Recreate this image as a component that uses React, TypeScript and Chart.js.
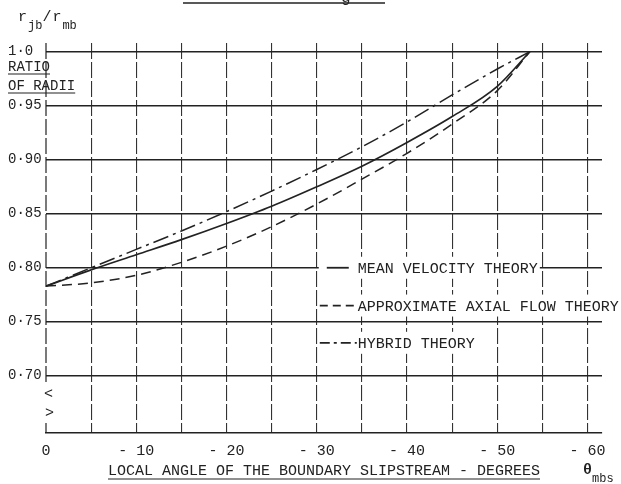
import React, { useEffect, useRef } from 'react';
import { Chart, registerables } from 'chart.js';

Chart.register(...registerables);

// ---- data ----
const angles = [0, -5, -10, -15, -20, -25, -30, -35, -40, -45, -50, -53.6];
const meanVelocity = [0.783, 0.798, 0.812, 0.826, 0.841, 0.857, 0.875, 0.894, 0.916, 0.94, 0.968, 1.0];
const approxAxial = [0.783, 0.786, 0.793, 0.805, 0.82, 0.838, 0.859, 0.882, 0.906, 0.933, 0.964, 1.0];
const hybrid = [0.783, 0.8, 0.817, 0.834, 0.852, 0.871, 0.891, 0.912, 0.935, 0.96, 0.984, 1.0];

const xTicks = [0, -5, -10, -15, -20, -25, -30, -35, -40, -45, -50, -55, -60];
const yTicks = [0.7, 0.75, 0.8, 0.85, 0.9, 0.95, 1.0];
const seriesNames = ['MEAN VELOCITY THEORY', 'APPROXIMATE AXIAL FLOW THEORY', 'HYBRID THEORY'];
const legendRowValues = [0.8, 0.765, 0.7305];
const xTitle = 'LOCAL ANGLE OF THE BOUNDARY SLIPSTREAM - DEGREES';
const yTitleLines = ['RATIO', 'OF RADII'];

const INK = '#222';
const FONT = '"Liberation Mono", "DejaVu Sans Mono", monospace';

const fmtY = (v: number) => (Math.abs(v - 1) < 1e-9 ? '1·0' : v.toFixed(2).replace('.', '·'));
const fmtX = (v: number) => {
  if (Math.round(v) % 10 !== 0) return '';
  return v === 0 ? '0' : '- ' + Math.abs(v);
};

const annotations = {
  id: 'annotations',
  afterDraw(chart: any) {
    const { ctx, chartArea, scales } = chart;
    const xs = scales.x;
    const ys = scales.y;
    ctx.save();
    ctx.fillStyle = INK;
    ctx.strokeStyle = INK;

    // left axis with a break
    const x0 = xs.getPixelForValue(0);
    ctx.lineWidth = 1.2;
    ctx.setLineDash([16, 3]);
    ctx.beginPath();
    ctx.moveTo(x0, chartArea.top);
    ctx.lineTo(x0, ys.getPixelForValue(0.693));
    ctx.stroke();
    ctx.setLineDash([]);
    ctx.beginPath();
    ctx.moveTo(x0, chartArea.bottom - 10);
    ctx.lineTo(x0, chartArea.bottom);
    ctx.stroke();
    ctx.font = '15px ' + FONT;
    ctx.textBaseline = 'middle';
    ctx.textAlign = 'left';
    ctx.fillText('<', x0 - 2, ys.getPixelForValue(0.683));
    ctx.fillText('>', x0 - 1, ys.getPixelForValue(0.6655));

    // legend
    const gx = xs.getPixelForValue(-30);
    const textX = gx + 41;
    seriesNames.forEach((name, i) => {
      const yy = ys.getPixelForValue(legendRowValues[i]);
      ctx.font = '15px ' + FONT;
      const w = ctx.measureText(name).width;
      ctx.fillStyle = '#fff';
      ctx.fillRect(gx + 2, yy - 11, textX + w + 2 - (gx + 2), 22);
      ctx.fillStyle = INK;
      ctx.fillText(name, textX, yy + 1);
      ctx.lineWidth = 1.8;
      ctx.beginPath();
      if (i === 0) {
        ctx.setLineDash([]);
        ctx.moveTo(gx + 10, yy);
        ctx.lineTo(gx + 32, yy);
      } else if (i === 1) {
        ctx.setLineDash([8, 5]);
        ctx.moveTo(gx + 3, yy);
        ctx.lineTo(gx + 38, yy);
      } else {
        ctx.setLineDash([10, 4, 3, 4]);
        ctx.moveTo(gx + 3, yy);
        ctx.lineTo(gx + 40, yy);
      }
      ctx.stroke();
      ctx.setLineDash([]);
    });

    // top-left axis label r_jb / r_mb
    ctx.textBaseline = 'alphabetic';
    let cx = 18;
    const parts: [string, boolean][] = [['r', false], ['jb', true], ['/', false], ['r', false], ['mb', true]];
    parts.forEach(([t, sub]) => {
      ctx.font = (sub ? '12px ' : '15px ') + FONT;
      ctx.fillText(t, cx, sub ? 29 : 21);
      cx += ctx.measureText(t).width + (sub ? 0 : 1);
    });

    // RATIO / OF RADII (underlined)
    ctx.font = '14px ' + FONT;
    ctx.lineWidth = 1.2;
    yTitleLines.forEach((t, i) => {
      const base = 71 + i * 19;
      ctx.fillText(t, 8, base);
      const w = ctx.measureText(t).width;
      ctx.beginPath();
      ctx.moveTo(8, base + 3);
      ctx.lineTo(8 + w, base + 3);
      ctx.stroke();
    });

    // underline of the x title
    ctx.font = '15px ' + FONT;
    const tw = ctx.measureText(xTitle).width;
    const tcx = (chartArea.left + chartArea.right) / 2;
    ctx.beginPath();
    ctx.moveTo(tcx - tw / 2, 479);
    ctx.lineTo(tcx + tw / 2, 479);
    ctx.stroke();

    // theta_mbs
    ctx.font = 'bold 15px ' + FONT;
    ctx.fillText('θ', 583, 474);
    ctx.font = '12px ' + FONT;
    ctx.fillText('mbs', 592, 482);

    // cut-off caption at the very top
    ctx.lineWidth = 1.5;
    ctx.beginPath();
    ctx.moveTo(183, 3);
    ctx.lineTo(385, 3);
    ctx.stroke();
    ctx.font = '16px ' + FONT;
    ctx.fillText('g', 341, 1.5);

    ctx.restore();
  },
};

export default function App() {
  const ref = useRef<HTMLCanvasElement | null>(null);

  useEffect(() => {
    document.body.style.margin = '0';
    const canvas = ref.current;
    if (!canvas) return;
    const pts = (ys: number[]) => angles.map((a, i) => ({ x: a, y: ys[i] }));
    const common = {
      borderColor: INK,
      pointRadius: 0,
      fill: false,
      cubicInterpolationMode: 'monotone' as const,
    };
    const chart = new Chart(canvas, {
      type: 'line',
      data: {
        datasets: [
          { ...common, label: seriesNames[0], data: pts(meanVelocity), borderWidth: 1.7 },
          { ...common, label: seriesNames[1], data: pts(approxAxial), borderWidth: 1.5, borderDash: [10, 6] },
          { ...common, label: seriesNames[2], data: pts(hybrid), borderWidth: 1.5, borderDash: [16, 5, 3, 5] },
        ],
      },
      options: {
        animation: false,
        responsive: false,
        layout: { padding: { left: 8, top: 43, right: 19, bottom: 0 } },
        plugins: { legend: { display: false }, tooltip: { enabled: false } },
        scales: {
          x: {
            type: 'linear',
            reverse: true,
            min: -61.6,
            max: 0,
            afterBuildTicks: (axis: any) => {
              axis.ticks = xTicks.map((v) => ({ value: v }));
            },
            afterFit: (scale: any) => {
              scale.height = 51;
            },
            ticks: {
              autoSkip: false,
              maxRotation: 0,
              padding: 9,
              color: INK,
              font: { family: FONT, size: 15 },
              callback: (v: any) => fmtX(Number(v)),
            },
            grid: {
              drawTicks: false,
              lineWidth: 1.1,
              color: (c: any) => (c.tick && c.tick.value === 0 ? 'rgba(0,0,0,0)' : '#333'),
            },
            border: { display: true, width: 1.6, color: INK, dash: [16, 3] },
            title: {
              display: true,
              text: xTitle,
              color: INK,
              font: { family: FONT, size: 15 },
              padding: { top: 0, bottom: 4 },
            },
          },
          y: {
            type: 'linear',
            min: 0.647,
            max: 1.0081,
            afterBuildTicks: (axis: any) => {
              axis.ticks = yTicks.map((v) => ({ value: v }));
            },
            afterFit: (scale: any) => {
              scale.width = 38;
            },
            ticks: {
              crossAlign: 'far',
              padding: 4,
              color: INK,
              font: { family: FONT, size: 14 },
              callback: (v: any) => fmtY(Number(v)),
            },
            grid: { drawTicks: false, lineWidth: 1.6, color: INK },
            border: { display: false },
          },
        },
      },
      plugins: [annotations],
    });
    return () => chart.destroy();
  }, []);

  return (
    <div style={{ width: 621, height: 484 }}>
      <canvas ref={ref} width={621} height={484} style={{ display: 'block', width: 621, height: 484 }} />
    </div>
  );
}
